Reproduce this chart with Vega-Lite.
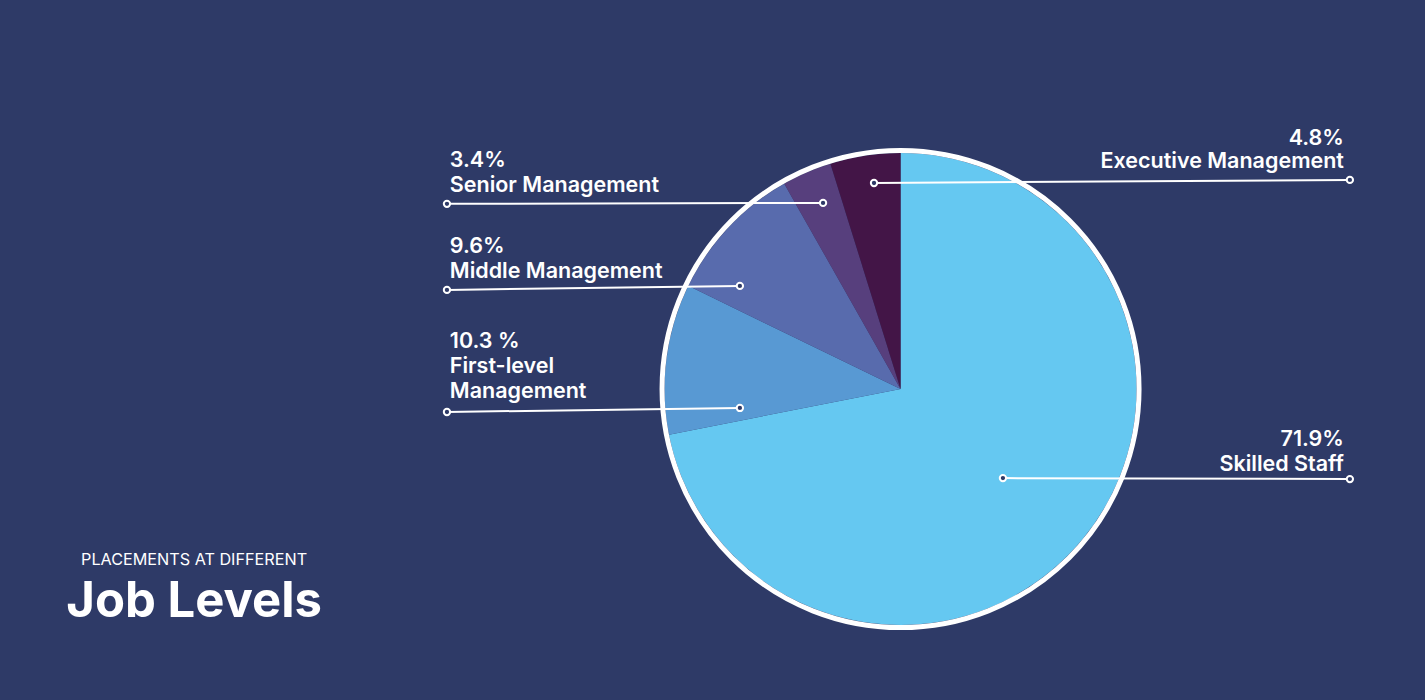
{
  "$schema": "https://vega.github.io/schema/vega-lite/v6.json",
  "width": 1425,
  "height": 700,
  "autosize": {"type": "none"},
  "padding": 0,
  "background": "#2e3a67",
  "config": {"view": {"stroke": null}, "font": "Inter"},
  "datasets": {
    "slices": [
      {"level": "Skilled Staff", "share": 71.9, "rank": 1},
      {"level": "First-level Management", "share": 10.3, "rank": 2},
      {"level": "Middle Management", "share": 9.6, "rank": 3},
      {"level": "Senior Management", "share": 3.4, "rank": 4},
      {"level": "Executive Management", "share": 4.8, "rank": 5}
    ],
    "leaders": [
      {"level": "Executive Management", "x1": -0.112, "y1": 0.869, "x2": 1.896, "y2": 0.882},
      {"level": "Senior Management", "x1": -0.327, "y1": 0.785, "x2": -1.914, "y2": 0.781},
      {"level": "Middle Management", "x1": -0.678, "y1": 0.435, "x2": -1.914, "y2": 0.418},
      {"level": "First-level Management", "x1": -0.678, "y1": -0.080, "x2": -1.914, "y2": -0.097},
      {"level": "Skilled Staff", "x1": 0.432, "y1": -0.376, "x2": 1.896, "y2": -0.380}
    ],
    "labels": [
      {"side": "right", "text": "4.8%", "x": 1.871, "y": 1.030},
      {"side": "right", "text": "Executive Management", "x": 1.871, "y": 0.932},
      {"side": "left", "text": "3.4%", "x": -1.902, "y": 0.937},
      {"side": "left", "text": "Senior Management", "x": -1.902, "y": 0.831},
      {"side": "left", "text": "9.6%", "x": -1.902, "y": 0.574},
      {"side": "left", "text": "Middle Management", "x": -1.902, "y": 0.468},
      {"side": "left", "text": "10.3 %", "x": -1.902, "y": 0.173},
      {"side": "left", "text": "First-level", "x": -1.902, "y": 0.068},
      {"side": "left", "text": "Management", "x": -1.902, "y": -0.038},
      {"side": "right", "text": "71.9%", "x": 1.871, "y": -0.241},
      {"side": "right", "text": "Skilled Staff", "x": 1.871, "y": -0.346}
    ],
    "titles": [
      {"role": "sub", "text": "PLACEMENTS AT DIFFERENT", "x": -3.458, "y": -0.743},
      {"role": "main", "text": "Job Levels", "x": -3.52, "y": -0.962}
    ]
  },
  "layer": [
    {
      "data": {"name": "slices"},
      "mark": {"type": "arc", "outerRadius": 236, "stroke": null},
      "encoding": {
        "x": {"datum": 0, "type": "quantitative", "scale": {"domain": [-3.8, 2.213], "nice": false, "zero": false}, "axis": null},
        "y": {"datum": 0, "type": "quantitative", "scale": {"domain": [-1.312, 1.641], "nice": false, "zero": false}, "axis": null},
        "theta": {"field": "share", "type": "quantitative", "stack": true},
        "order": {"field": "rank", "type": "quantitative", "sort": "ascending"},
        "color": {
          "field": "level",
          "type": "nominal",
          "scale": {
            "domain": ["Skilled Staff", "First-level Management", "Middle Management", "Senior Management", "Executive Management"],
            "range": ["#65c8f1", "#5899d3", "#586bad", "#573f7d", "#431547"]
          },
          "legend": null
        }
      }
    },
    {
      "data": {"values": [{"ring": "outline"}]},
      "mark": {"type": "point", "shape": "circle", "filled": false, "size": 227529, "stroke": "white", "strokeWidth": 5, "opacity": 1},
      "encoding": {
        "x": {"datum": 0, "type": "quantitative"},
        "y": {"datum": 0, "type": "quantitative"}
      }
    },
    {
      "data": {"name": "leaders"},
      "mark": {"type": "rule", "color": "white", "strokeWidth": 2},
      "encoding": {
        "x": {"field": "x1", "type": "quantitative"},
        "y": {"field": "y1", "type": "quantitative"},
        "x2": {"field": "x2"},
        "y2": {"field": "y2"}
      }
    },
    {
      "data": {"name": "leaders"},
      "mark": {"type": "point", "shape": "circle", "filled": true, "fill": "#2e3a67", "stroke": "white", "strokeWidth": 2, "size": 40, "opacity": 1},
      "encoding": {
        "x": {"field": "x1", "type": "quantitative"},
        "y": {"field": "y1", "type": "quantitative"}
      }
    },
    {
      "data": {"name": "leaders"},
      "mark": {"type": "point", "shape": "circle", "filled": true, "fill": "#2e3a67", "stroke": "white", "strokeWidth": 2, "size": 40, "opacity": 1},
      "encoding": {
        "x": {"field": "x2", "type": "quantitative"},
        "y": {"field": "y2", "type": "quantitative"}
      }
    },
    {
      "data": {"name": "labels"},
      "transform": [{"filter": "datum.side === 'left'"}],
      "mark": {"type": "text", "align": "left", "baseline": "alphabetic", "color": "white", "font": "Inter", "fontWeight": 600, "fontSize": 21.5, "letterSpacing": -0.2},
      "encoding": {
        "x": {"field": "x", "type": "quantitative"},
        "y": {"field": "y", "type": "quantitative"},
        "text": {"field": "text"}
      }
    },
    {
      "data": {"name": "labels"},
      "transform": [{"filter": "datum.side === 'right'"}],
      "mark": {"type": "text", "align": "right", "baseline": "alphabetic", "color": "white", "font": "Inter", "fontWeight": 600, "fontSize": 21.5, "letterSpacing": -0.2},
      "encoding": {
        "x": {"field": "x", "type": "quantitative"},
        "y": {"field": "y", "type": "quantitative"},
        "text": {"field": "text"}
      }
    },
    {
      "data": {"name": "titles"},
      "transform": [{"filter": "datum.role === 'sub'"}],
      "mark": {"type": "text", "align": "left", "baseline": "alphabetic", "color": "white", "font": "Inter", "fontWeight": 400, "fontSize": 16.2},
      "encoding": {
        "x": {"field": "x", "type": "quantitative"},
        "y": {"field": "y", "type": "quantitative"},
        "text": {"field": "text"}
      }
    },
    {
      "data": {"name": "titles"},
      "transform": [{"filter": "datum.role === 'main'"}],
      "mark": {"type": "text", "align": "left", "baseline": "alphabetic", "color": "white", "font": "Inter", "fontWeight": 700, "fontSize": 49, "letterSpacing": -2.6},
      "encoding": {
        "x": {"field": "x", "type": "quantitative"},
        "y": {"field": "y", "type": "quantitative"},
        "text": {"field": "text"}
      }
    }
  ]
}
